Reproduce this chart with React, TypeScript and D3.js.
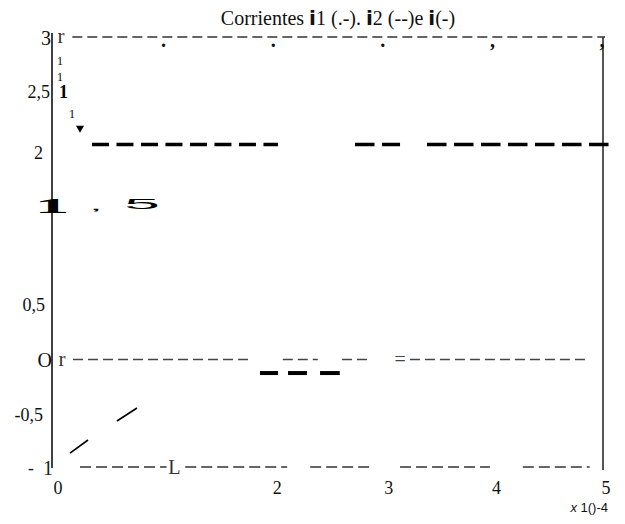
import React from "react";
import * as d3 from "d3";

// ---- data ----
const xTickValues = [0, 2, 3, 4, 5];
const xTickLabels = ["0", "2", "3", "4", "5"];
const yTickValues = [3, 2.5, 2, 0.5, 0, -0.5, -1];
const yTickLabels = ["3", "2,5", "2", "0,5", "O", "-0,5", "-1"];
const topMarkX = [1, 2, 3, 4, 5];
const topMarkChars = [".", ".", ".", ",", ","];
// thin dashed "frame" rows: [yValue, x0, x1]
const topRow = [[3, 0.14, 5]];
const zeroRow = [[0, 0.146, 1.76], [0, 2.06, 2.38], [0, 2.6, 2.87], [0, 3.22, 4.86]];
const bottomRow = [[-1, 0.21, 1.0], [-1, 1.17, 2.1], [-1, 2.31, 2.86], [-1, 3.13, 3.95], [-1, 4.25, 4.86]];
// i2 (--) thick dashed segments
const i2High = [[2.0, 0.319, 2.016], [2.0, 2.719, 3.13], [2.0, 3.376, 5.046]];
const i2Low = [[-0.126, 1.852, 2.016], [-0.126, 2.108, 2.281], [-0.126, 2.4, 2.58]];
// i (-) solid rising pieces: [x0, y0, x1, y1]
const iPieces = [[0.119, -0.87, 0.283, -0.749], [0.547, -0.572, 0.73, -0.451]];
// i1 (.-) marks near the start
const i1MarkX = [0.027, 0.027, 0.06, 0.137];
const i1MarkY = [2.78, 2.63, 2.49, 2.284];
const i1MarkBold = [false, false, true, false];
const i1Tip = [0.21, 2.153];

const W = 625;
const H = 524;

const serif = "Liberation Serif";
const sans = "Liberation Sans";
const heavy = "DejaVu Sans";

export default function App() {
  const x = d3.scaleLinear().domain([0, 5]).range([57, 605]);
  const y = d3.scaleLinear().domain([-1, 3]).range([467, 37]);

  const row = (r: number[], i: number, k: string, dash: string, color: string, sw: number) => (
    <line
      key={k + i}
      x1={x(r[1])}
      x2={x(r[2])}
      y1={y(r[0])}
      y2={y(r[0])}
      stroke={color}
      strokeWidth={sw}
      strokeDasharray={dash}
    />
  );

  const yLabelRight = [51, 50, 43, 45, 52, 43, 53];
  const yLabelDy = [1, 1, 8, -1, 0, 2, 1];

  return (
    <svg width={W} height={H} style={{ position: "absolute", left: 0, top: 0, background: "#fff" }}>
      {/* title */}
      <text x={338} y={18} textAnchor="middle" dominantBaseline="central" style={{ fontFamily: serif, fontSize: 20 }} fill="#111">
        Corrientes{"  "}
        <tspan style={{ fontFamily: heavy, fontWeight: 900 }}>i</tspan>1 (.-).{" "}
        <tspan style={{ fontFamily: heavy, fontWeight: 900 }}>i</tspan>2 (--)e{" "}
        <tspan style={{ fontFamily: heavy, fontWeight: 900 }}>i</tspan>(-)
      </text>

      {/* axes */}
      <line x1={52} x2={52} y1={33} y2={468} stroke="#111" strokeWidth={1.6} />
      <line x1={603} x2={603} y1={37} y2={470} stroke="#555" strokeWidth={2} />

      {/* frame rows */}
      {topRow.map((r, i) => row(r, i, "t", "10,5", "#333", 1.5))}
      {zeroRow.map((r, i) => row(r, i, "z", "10,5", "#444", 1.5))}
      {bottomRow.map((r, i) => row(r, i, "b", "11,5", "#333", 1.6))}

      {/* top row tick marks */}
      {topMarkX.map((v, i) => (
        <text key={"tm" + i} x={x(v) - 3} y={y(3) + 10} textAnchor="middle" style={{ fontFamily: serif, fontSize: 20, fontWeight: 700 }} fill="#111">
          {topMarkChars[i]}
        </text>
      ))}
      <text x={61} y={y(3) + 6} textAnchor="middle" style={{ fontFamily: serif, fontSize: 21 }} fill="#333">r</text>
      <text x={62} y={y(0) + 6} textAnchor="middle" style={{ fontFamily: serif, fontSize: 21 }} fill="#333">r</text>
      <text x={x(3.13)} y={y(0) + 6} textAnchor="middle" style={{ fontFamily: serif, fontSize: 20 }} fill="#444">=</text>
      <text x={x(1.07)} y={y(-1) + 7} textAnchor="middle" style={{ fontFamily: serif, fontSize: 20 }} fill="#333">L</text>

      {/* y tick labels */}
      {yTickValues.map((v, i) =>
        v === -1 ? (
          <g key={"yl" + i}>
            <text x={31} y={y(v) + 1} textAnchor="middle" dominantBaseline="central" style={{ fontFamily: sans, fontSize: 19 }} fill="#222">-</text>
            <text x={53} y={y(v) + yLabelDy[i]} textAnchor="end" dominantBaseline="central" style={{ fontFamily: serif, fontSize: 20 }} fill="#222">1</text>
          </g>
        ) : (
          <text
            key={"yl" + i}
            x={yLabelRight[i]}
            y={y(v) + yLabelDy[i]}
            textAnchor="end"
            dominantBaseline="central"
            style={{ fontFamily: serif, fontSize: v === 3 || v === 0 ? 20 : 18 }}
            fill="#111"
          >
            {yTickLabels[i]}
          </text>
        )
      )}
      {/* distorted "1,5" label */}
      <text transform={`translate(52,${y(1.5) + 15}) scale(3.2,1)`} textAnchor="middle" style={{ fontFamily: serif, fontWeight: 900, fontSize: 22 }} fill="#000">1</text>
      <text transform={`translate(96,${y(1.5) + 12}) scale(3,0.7)`} textAnchor="middle" style={{ fontFamily: sans, fontSize: 16 }} fill="#000">,</text>
      <text transform={`translate(142,${y(1.5) + 11}) scale(3.2,0.75)`} textAnchor="middle" style={{ fontFamily: sans, fontSize: 20 }} fill="#000">5</text>

      {/* x tick labels */}
      {xTickValues.map((v, i) => (
        <text key={"xl" + i} x={x(v) + (v === 3 ? 3 : 1)} y={488} textAnchor="middle" dominantBaseline="central" style={{ fontFamily: serif, fontSize: 18 }} fill="#111">
          {xTickLabels[i]}
        </text>
      ))}
      <text x={608} y={507} textAnchor="end" dominantBaseline="central" style={{ fontFamily: sans, fontSize: 13 }} fill="#111">
        <tspan style={{ fontStyle: "italic" }}>x</tspan> 1()-4
      </text>

      {/* i2 thick dashed */}
      {i2High.map((r, i) => row(r, i, "h", i === 0 ? "17,7.5" : "19.5,7.5", "#000", 3.5))}
      {i2Low.map((r, i) => row(r, i, "l", "", "#000", 4))}

      {/* i solid pieces */}
      {iPieces.map((p, i) => (
        <line key={"ip" + i} x1={x(p[0])} y1={y(p[1])} x2={x(p[2])} y2={y(p[3])} stroke="#000" strokeWidth={1.6} />
      ))}

      {/* i1 marks */}
      {i1MarkX.map((v, i) => (
        <text
          key={"m" + i}
          x={x(v)}
          y={y(i1MarkY[i])}
          textAnchor="middle"
          dominantBaseline="central"
          style={{ fontFamily: serif, fontSize: i1MarkBold[i] ? 18 : 12, fontWeight: i1MarkBold[i] ? 900 : 400 }}
          fill="#000"
        >
          1
        </text>
      ))}
      <path
        d={d3.symbol(d3.symbolTriangle, 28)() || ""}
        transform={`translate(${x(i1Tip[0])},${y(i1Tip[1])}) rotate(180)`}
        fill="#000"
      />
    </svg>
  );
}
